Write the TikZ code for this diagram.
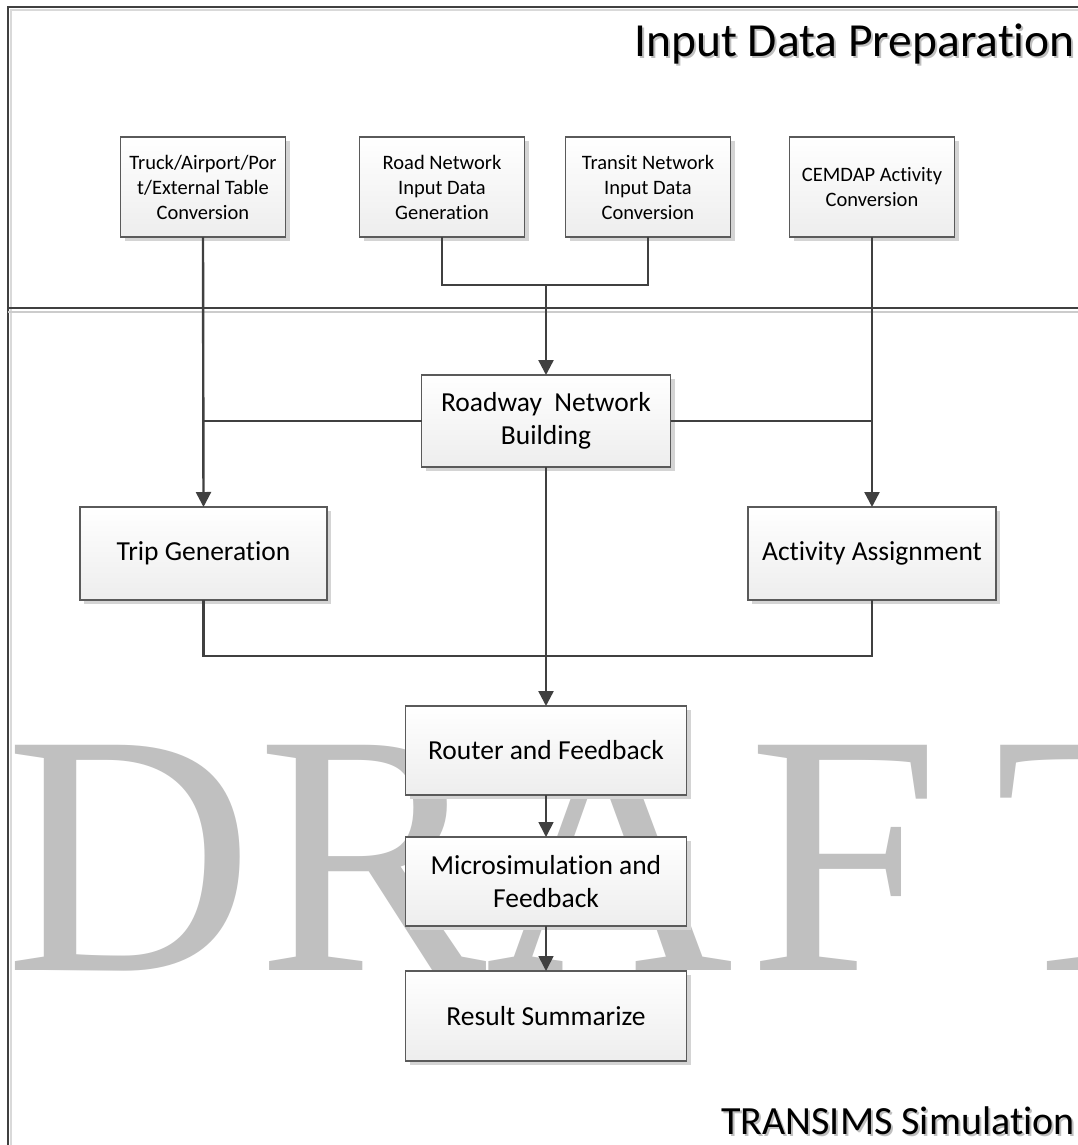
\documentclass[tikz,border=0pt]{standalone}
\usepackage{fontspec}
\setmainfont{Carlito}[Ligatures={NoCommon}]
\newfontfamily\wmfont{Liberation Serif}
\usetikzlibrary{arrows.meta,calc}
\definecolor{linec}{HTML}{404040}
\definecolor{boxb}{HTML}{5A5A5A}
\definecolor{wm}{HTML}{C0C0C0}
\definecolor{shad}{HTML}{D4D4D4}
\tikzset{
  procbox/.style={draw=boxb, line width=1.2pt, top color=white, bottom color=black!7,
    align=center, inner sep=2pt, outer sep=0pt},
  smallbox/.style={procbox, minimum width=165pt, minimum height=100pt,
    font=\fontsize{20.5}{25}\selectfont},
  bigbox/.style={procbox, font=\fontsize{27.5}{33}\selectfont},
  conn/.style={draw=linec, line width=2.4pt},
  thinconn/.style={draw=linec, line width=1.6pt},
  arr/.style={-{Triangle[width=15pt,length=15pt]}},
  title/.style={anchor=base east, inner sep=0pt},
  wmletter/.style={anchor=base west, inner sep=0pt, text=wm, font=\wmfont\fontsize{344}{344}\selectfont},
}
\newcommand{\shadowbox}[4]{% cx, cy, w, h
  \fill[shad] ({#1-#3/2+4},{#2-#4/2+4}) rectangle ({#1+#3/2+4},{#2+#4/2+4});}
\begin{document}
\begin{tikzpicture}[x=1pt,y=-1pt]
\useasboundingbox (0,0) rectangle (1078,1145);
\fill[white] (0,0) rectangle (1078,1145);
% watermark
\node[wmletter] (wD) at (5,970) {D};
\node[wmletter] (wR) at (257,970) {R};
\node[wmletter] (wA) at (485,970) {A};
\begin{scope}[shift={(748,970)}, xscale=0.85]
  \node[wmletter] (wF) at (0,0) {F};
\end{scope}
\begin{scope}[shift={(994,970)}, xscale=0.6]
  \node[wmletter] (wT) at (0,0) {T};
\end{scope}
% frame
\draw[black!15, line width=1.5pt] (11,1145) -- (11,10) -- (1078,10);
\draw[linec, line width=1.2pt] (8,1145) -- (8,7) -- (1078,7);
\draw[black!20, line width=1.5pt] (8,312) -- (1078,312);
\draw[linec, line width=1.2pt] (8,308) -- (1078,308);
% titles
\node[title, text=black!25, font=\fontsize{47.5}{50}\selectfont] (t1s) at (1077,59) {Input Data Preparation};
\node[title, font=\fontsize{47.5}{50}\selectfont] (t1) at (1075,57) {Input Data Preparation};
\node[title, text=black!25, font=\fontsize{40}{44}\selectfont] (t2s) at (1077,1136) {TRANSIMS Simulation};
\node[title, font=\fontsize{40}{44}\selectfont] (t2) at (1075,1134) {TRANSIMS Simulation};
% shadows
\shadowbox{203}{187}{165}{100}
\shadowbox{442}{187}{165}{100}
\shadowbox{648}{187}{165}{100}
\shadowbox{872}{187}{165}{100}
\shadowbox{546}{421}{249}{92}
\shadowbox{203.5}{553.5}{247}{93}
\shadowbox{872}{553.5}{248}{93}
\shadowbox{546}{750.5}{281}{89}
\shadowbox{546}{881.5}{281}{89}
\shadowbox{546}{1016}{281}{90}
% boxes
\node[smallbox] (truck) at (203,187) {Truck/Airport/Por\\t/External Table\\Conversion};
\node[smallbox] (road) at (442,187) {Road Network\\Input Data\\Generation};
\node[smallbox] (transit) at (648,187) {Transit Network\\Input Data\\Conversion};
\node[smallbox] (cemdap) at (872,187) {CEMDAP Activity\\Conversion};
\node[bigbox, minimum width=249pt, minimum height=92pt] (roadway) at (546,421) {Roadway\ \ Network\\Building};
\node[bigbox, minimum width=247pt, minimum height=93pt] (trip) at (203.5,553.5) {Trip Generation};
\node[bigbox, minimum width=248pt, minimum height=93pt] (activity) at (872,553.5) {Activity Assignment};
\node[bigbox, minimum width=281pt, minimum height=89pt] (router) at (546,750.5) {Router and Feedback};
\node[bigbox, minimum width=281pt, minimum height=89pt] (micro) at (546,881.5) {Microsimulation and\\Feedback};
\node[bigbox, minimum width=281pt, minimum height=90pt] (result) at (546,1016) {Result Summarize};
% connectors
\coordinate (j1) at (546,285);
\coordinate (j2) at (546,656);
\draw[conn] (road.south) |- (j1) -| (transit.south);
\draw[conn, arr] (j1) -- (roadway.north);
\draw[conn, arr] (truck.south) -- (trip.north);
\draw[conn, arr] (cemdap.south) -- (activity.north);
\draw[conn] (roadway.west) -- (roadway.west -| truck.south);
\draw[conn] (roadway.east) -- (roadway.east -| cemdap.south);
\draw[conn] (trip.south) |- (j2) -| (activity.south);
\draw[conn, arr] (roadway.south) -- (router.north);
\draw[thinconn, arr] (router.south) -- (micro.north);
\draw[thinconn, arr] (micro.south) -- (result.north);
\end{tikzpicture}
\end{document}
